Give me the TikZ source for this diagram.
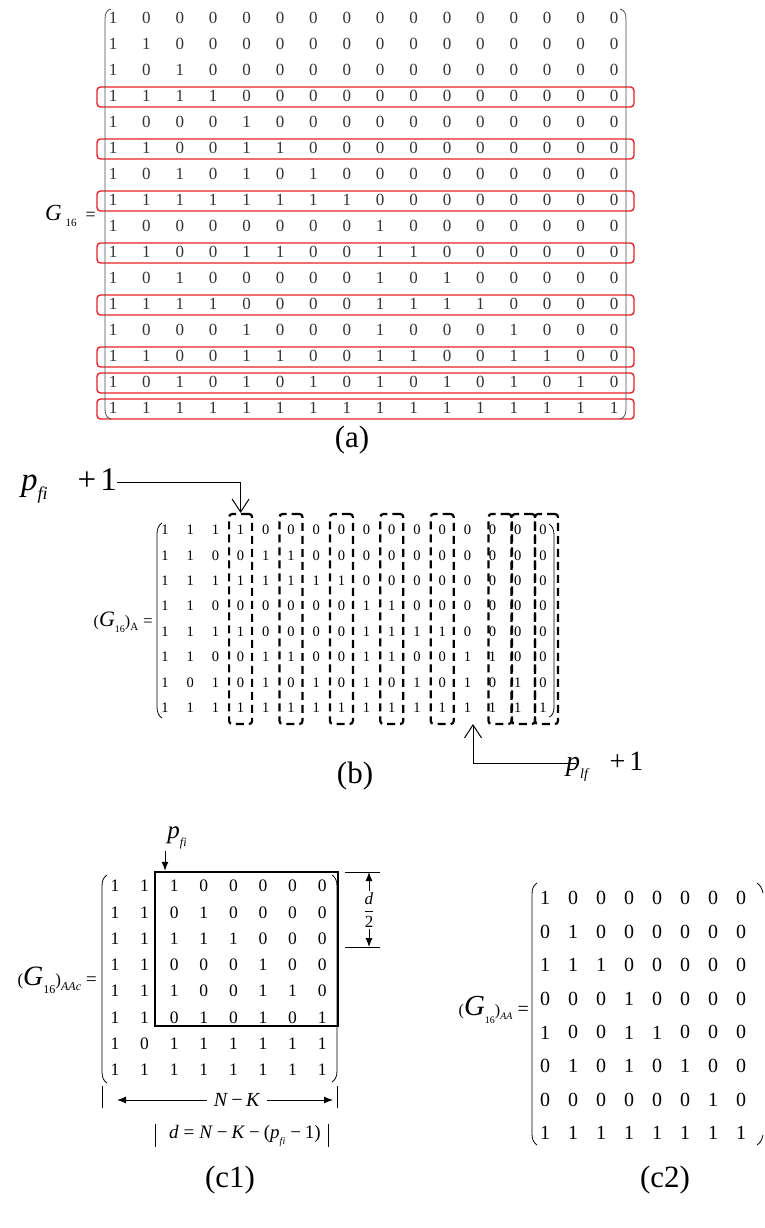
\documentclass[tikz,border=0pt]{standalone}
\usepackage{fontspec}
\setmainfont{Liberation Serif}
\usetikzlibrary{arrows.meta}
\definecolor{boxred}{RGB}{232,32,38}
\newcommand{\fs}[1]{\fontsize{#1}{#1}\selectfont}
\newcommand{\mysub}[2][9]{\raisebox{-0.3em}{\fs{#1}#2}}
\begin{document}
\begin{tikzpicture}[x=1pt,y=-1pt,
  ent/.style={inner sep=0pt},
  redbox/.style={draw=boxred, line width=1.4pt, rounded corners=3.5pt},
  dbox/.style={draw, line width=2.2pt, dash pattern=on 8pt off 5pt, rounded corners=3pt, inner sep=0pt, minimum height=210pt, minimum width=23pt},
  paren/.style={line width=0.8pt},
  thinarr/.style={line width=1pt, -{Straight Barb[length=13pt,width=17pt,line width=1pt]}},
  fillarr/.style={line width=1pt, -{Latex[length=9pt,width=7pt]}},
  lbl/.style={inner sep=0pt, font=\fs{31}}]
\useasboundingbox (0,0) rectangle (765,1228);

% ---------------- (a) ----------------
\foreach \row [count=\i] in {
{1,0,0,0,0,0,0,0,0,0,0,0,0,0,0,0},
{1,1,0,0,0,0,0,0,0,0,0,0,0,0,0,0},
{1,0,1,0,0,0,0,0,0,0,0,0,0,0,0,0},
{1,1,1,1,0,0,0,0,0,0,0,0,0,0,0,0},
{1,0,0,0,1,0,0,0,0,0,0,0,0,0,0,0},
{1,1,0,0,1,1,0,0,0,0,0,0,0,0,0,0},
{1,0,1,0,1,0,1,0,0,0,0,0,0,0,0,0},
{1,1,1,1,1,1,1,1,0,0,0,0,0,0,0,0},
{1,0,0,0,0,0,0,0,1,0,0,0,0,0,0,0},
{1,1,0,0,1,1,0,0,1,1,0,0,0,0,0,0},
{1,0,1,0,0,0,0,0,1,0,1,0,0,0,0,0},
{1,1,1,1,0,0,0,0,1,1,1,1,0,0,0,0},
{1,0,0,0,1,0,0,0,1,0,0,0,1,0,0,0},
{1,1,0,0,1,1,0,0,1,1,0,0,1,1,0,0},
{1,0,1,0,1,0,1,0,1,0,1,0,1,0,1,0},
{1,1,1,1,1,1,1,1,1,1,1,1,1,1,1,1}}
{\foreach \v [count=\j] in \row {\node[ent, font=\fs{17}, text=black!80] (a-\i-\j) at ({113+33.4*(\j-1)},{18+26*(\i-1)}) {\v};}}
\foreach \r in {4,6,8,10,12,14,15,16} {\draw[redbox] (97,{19+26*(\r-1)-10}) rectangle (634,{19+26*(\r-1)+10});}
\draw[paren, black!70] (111,9) .. controls (107,10) and (105,13) .. (105,19) -- (105,409) .. controls (105,415) and (107,418) .. (111,419);
\draw[paren, black!70] (620,9) .. controls (624,10) and (626,13) .. (626,19) -- (626,409) .. controls (626,415) and (624,418) .. (620,419);
\node[anchor=base east, inner sep=0pt] (g16) at (96,220) {\fs{23}\textit{G}\hspace{4pt}\mysub[11]{16}\hspace{9pt}\fs{18}=};
\node[lbl] (la) at (352,440) {(a)};

% ---------------- (b) ----------------
\begin{scope}[yshift=24pt]
\foreach \row [count=\i] in {
{1,1,1,1,0,0,0,0,0,0,0,0,0,0,0,0},
{1,1,0,0,1,1,0,0,0,0,0,0,0,0,0,0},
{1,1,1,1,1,1,1,1,0,0,0,0,0,0,0,0},
{1,1,0,0,0,0,0,0,1,1,0,0,0,0,0,0},
{1,1,1,1,0,0,0,0,1,1,1,1,0,0,0,0},
{1,1,0,0,1,1,0,0,1,1,0,0,1,1,0,0},
{1,0,1,0,1,0,1,0,1,0,1,0,1,0,1,0},
{1,1,1,1,1,1,1,1,1,1,1,1,1,1,1,1}}
{\foreach \v [count=\j] in \row {\node[ent, font=\fs{14.5}] (b-\i-\j) at ({165+25.2*(\j-1)},{554+25.4*(\i-1)}) {\v};}}
\foreach \c in {4,6,8,10,12} {\node[dbox] (bx\c) at ({165+25.2*(\c-1)},643) {};}
\node[dbox] (bx14) at (500,643) {};
\node[dbox] (bx15) at (523.5,643) {};
\node[dbox] (bx16) at (546.5,643) {};
\draw[paren] (162,547) .. controls (159,549) and (157,552) .. (157,558) -- (157,731) .. controls (157,737) and (159,740) .. (162,742);
\draw[paren] (549,548) .. controls (552,550) and (554,553) .. (554,559) -- (554,731) .. controls (554,737) and (552,740) .. (549,741);
\node[anchor=base east, inner sep=0pt] (gA) at (153,650) {\fs{16}(\fs{22}\textit{G}\mysub[10]{16}\fs{16})\mysub[11]{A}\hspace{5pt}\fs{17}=};
\node[anchor=base west, inner sep=0pt] (pfi) at (21,514) {\fs{33}\textit{p}\mysub[18]{\textit{fi}}\hspace{30pt}+\hspace{4pt}1};
\coordinate (pfs) at (pfi.east |- 0,506);
\draw[thinarr] (pfs) -| (bx4.north);
\end{scope}
\begin{scope}[yshift=27pt]
\node[anchor=base west, inner sep=0pt] (plf) at (566,797) {\fs{28}\textit{p}\mysub[14]{\textit{lf}}\hspace{20pt}+\hspace{4pt}1};
\coordinate (plfs) at (576,790);
\coordinate (c13) at (473,751);
\draw[thinarr] (plfs) -| (c13);
\node[lbl] (lb) at (355,803) {(b)};
\end{scope}

% ---------------- (c1) ----------------
\begin{scope}[yshift=27pt]
\foreach \row [count=\i] in {
{1,1,1,0,0,0,0,0},
{1,1,0,1,0,0,0,0},
{1,1,1,1,1,0,0,0},
{1,1,0,0,0,1,0,0},
{1,1,1,0,0,1,1,0},
{1,1,0,1,0,1,0,1},
{1,0,1,1,1,1,1,1},
{1,1,1,1,1,1,1,1}}
{\foreach \v [count=\j] in \row {\node[ent, font=\fs{17.5}] (c-\i-\j) at ({115+29.6*(\j-1)},{913+26.3*(\i-1)}) {\v};}}
\node[draw, line width=2.5pt, inner sep=0pt, minimum width=183pt, minimum height=154pt] (c1box) at (246.5,976) {};
\draw[paren] (107,902) .. controls (104,904) and (102,907) .. (102,913) -- (102,1099) .. controls (102,1105) and (104,1108) .. (107,1110);
\draw[paren] (332,902) .. controls (335,904) and (337,907) .. (337,913) -- (337,1098) .. controls (337,1104) and (335,1107) .. (332,1109);
\node[anchor=base east, inner sep=0pt] (gAAc) at (97,1012) {\fs{17}(\fs{28}\textit{G}\mysub[12]{16}\fs{17})\mysub[12]{\textit{AAc}}\hspace{5pt}\fs{19}=};
\node[inner sep=0pt] (pfic) at (177,865) {\fs{25}\textit{p}\mysub[12]{\textit{fi}}};
\coordinate (pfa) at (165,878);
\draw[fillarr] (pfa) -- (pfa |- c1box.north);
\coordinate (dtl) at (345,899); \coordinate (dtr) at (380,899);
\coordinate (dbl) at (345,974); \coordinate (dbr) at (380,974);
\draw[line width=1pt] (dtl) -- (dtr);
\draw[line width=1pt] (dbl) -- (dbr);
\node[inner sep=1pt, font=\fs{17}] (half) at (369,937) {$\displaystyle\frac{\mbox{\fs{17}\textit{d}}}{\mbox{\fs{17}2}}$};
\coordinate (dt) at (369,899); \coordinate (db) at (369,974);
\draw[fillarr] (half) -- (dt);
\draw[fillarr] (half) -- (db);
\coordinate (bl1) at (102,1113); \coordinate (bl2) at (102,1135);
\coordinate (br1) at (337,1113); \coordinate (br2) at (337,1135);
\draw[line width=1pt] (bl1) -- (bl2);
\draw[line width=1pt] (br1) -- (br2);
\node[inner ysep=0pt, inner xsep=7pt] (nk) at (237,1127) {\fs{20}\textit{N}\,−\,\textit{K}};
\coordinate (nkl) at (117,1127); \coordinate (nkr) at (333,1127);
\draw[fillarr] (nk) -- (nkl);
\draw[fillarr] (nk) -- (nkr);
\coordinate (fl1) at (155,1151); \coordinate (fl2) at (155,1174);
\coordinate (fr1) at (328,1151); \coordinate (fr2) at (328,1174);
\draw[line width=1pt] (fl1) -- (fl2);
\draw[line width=1pt] (fr1) -- (fr2);
\node[inner sep=0pt] (form) at (245,1163) {\fs{19}\textit{d}\hspace{5pt}=\hspace{5pt}\textit{N}\hspace{4pt}−\hspace{4pt}\textit{K}\hspace{4pt}−\hspace{4pt}(\textit{p}\mysub[10]{\textit{fi}}\hspace{5pt}−\hspace{4pt}1)};
\node[lbl] (lc1) at (230,1207) {(c1)};
\end{scope}

% ---------------- (c2) ----------------
\begin{scope}[yshift=27pt]
\foreach \row [count=\i] in {
{1,0,0,0,0,0,0,0},
{0,1,0,0,0,0,0,0},
{1,1,1,0,0,0,0,0},
{0,0,0,1,0,0,0,0},
{1,0,0,1,1,0,0,0},
{0,1,0,1,0,1,0,0},
{0,0,0,0,0,0,1,0},
{1,1,1,1,1,1,1,1}}
{\foreach \v [count=\j] in \row {\node[ent, font=\fs{20}] (d-\i-\j) at ({545+28*(\j-1)},{925+33.6*(\i-1)}) {\v};}}
\draw[paren] (537,910) .. controls (534,912) and (532,915) .. (532,921) -- (532,1161) .. controls (532,1167) and (534,1170) .. (537,1172);
\draw[paren] (757,910) .. controls (760,912) and (762,915) .. (763,920);
\draw[paren] (763,1162) .. controls (762,1167) and (760,1170) .. (757,1172);
\node[anchor=base east, inner sep=0pt] (gAA) at (529,1042) {\fs{16}(\fs{29}\textit{G}\mysub[10]{16}\fs{16})\mysub[10]{\textit{AA}}\hspace{5pt}\fs{20}=};
\node[lbl] (lc2) at (665,1207) {(c2)};
\end{scope}
\end{tikzpicture}
\end{document}
